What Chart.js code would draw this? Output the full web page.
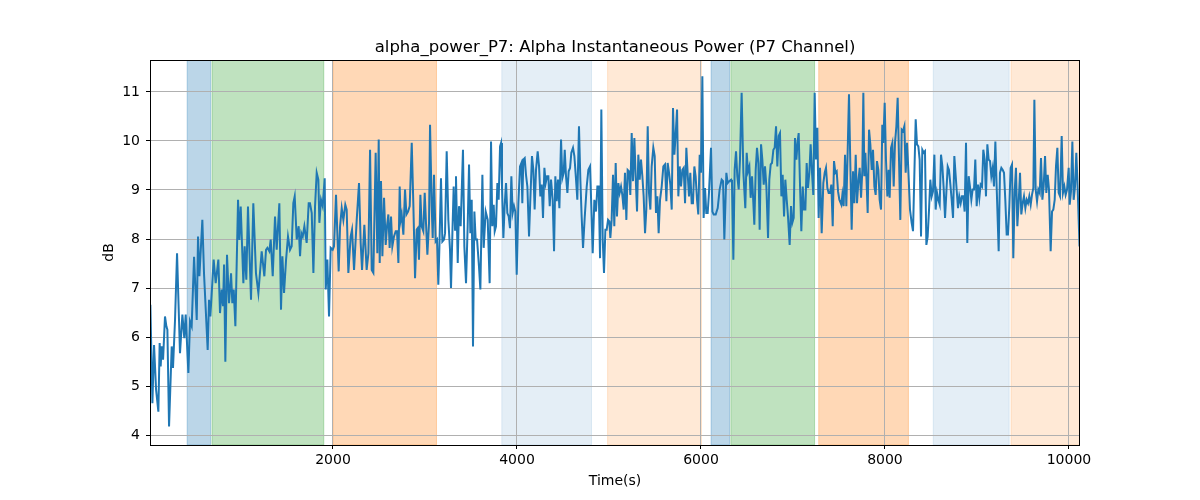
<!DOCTYPE html>
<html>
<head>
<meta charset="utf-8">
<title>alpha_power_P7</title>
<script src="https://cdn.jsdelivr.net/npm/chart.js@4.4.0/dist/chart.umd.min.js"></script>
<style>
    html, body { margin: 0; padding: 0; background: #fff; }
    #wrap { width: 1200px; height: 500px; }
</style>
</head>
<body>
<div id="wrap"><canvas id="powerChart" width="1200" height="500"></canvas></div>
<script>
// Chart text
const chartTitle = 'alpha_power_P7: Alpha Instantaneous Power (P7 Channel)';
const xLabel = 'Time(s)';
const yLabel = 'dB';

// Time (s) of each sample
const times = [
    15, 37, 55, 77, 102, 116, 127, 138, 153, 174, 189, 200, 218, 247, 261, 283, 305, 312, 337, 363,
    384, 399, 413, 428, 446, 464, 490, 519, 533, 548, 580, 598, 638, 653, 667, 703, 725, 754, 772, 790,
    805, 816, 830, 848, 870, 892, 906, 921, 939, 968, 982, 997, 1026, 1040, 1058, 1076, 1109, 1134, 1163, 1189,
    1225, 1254,
    1272, 1287, 1308, 1323, 1345, 1370, 1388, 1417, 1435, 1450, 1468, 1490, 1511, 1533, 1551, 1569, 1584, 1606, 1627, 1642,
    1656, 1671, 1689, 1714, 1736, 1750, 1769, 1787, 1805, 1823, 1841, 1852, 1870, 1888, 1910, 1921, 1939, 1957, 1975, 1997,
    2011, 2033, 2062, 2077, 2095, 2113, 2134, 2149, 2167, 2192, 2207, 2229, 2258, 2283, 2301, 2316, 2341, 2366, 2385, 2403,
    2421, 2439, 2464, 2482, 2497,
    2508, 2522, 2537, 2555, 2573, 2587, 2602, 2616, 2631, 2645, 2663, 2682, 2696, 2711, 2725, 2736, 2747, 2765, 2783, 2798,
    2816, 2834, 2856, 2874, 2892, 2910, 2921, 2935, 2950, 2964, 2982, 2997, 3011, 3026, 3044, 3055, 3073, 3084, 3098, 3116,
    3131, 3145, 3156, 3174, 3189, 3207, 3218, 3236, 3254, 3272, 3283, 3298, 3312, 3327, 3337, 3356, 3370, 3388, 3413, 3428,
    3446, 3464, 3479, 3493, 3508, 3522, 3537, 3551, 3566, 3587, 3602, 3624, 3638, 3660, 3682, 3703, 3718, 3732, 3747,
    3758, 3772, 3787, 3801, 3816, 3827, 3837, 3852, 3866, 3881, 3895, 3910, 3924, 3939, 3953, 3968, 3982, 3997, 4015, 4033,
    4048, 4058, 4069, 4084, 4098, 4113, 4131, 4145, 4163, 4178, 4192, 4207, 4225, 4240, 4254, 4269, 4283, 4298, 4312, 4327,
    4341, 4356, 4370, 4388, 4403, 4417, 4432, 4446, 4461, 4479, 4493, 4508, 4519, 4533, 4548, 4562, 4577, 4591, 4609, 4624,
    4642, 4656, 4674, 4689, 4703, 4718, 4736, 4758, 4776, 4794, 4808, 4823, 4841, 4859, 4874, 4888, 4903, 4917, 4932, 4946,
    4961, 4975, 4990, 5004,
    5015, 5029, 5044, 5058, 5073, 5087, 5102, 5116, 5131, 5145, 5160, 5174, 5189, 5203, 5218, 5232, 5247, 5261, 5276, 5290,
    5305, 5319, 5334, 5348, 5363, 5377, 5392, 5406, 5421, 5435, 5450, 5464, 5482, 5497, 5511, 5526, 5540, 5555, 5573, 5591,
    5609, 5624, 5638, 5653, 5667, 5682, 5696, 5711, 5725, 5740, 5754, 5769, 5783, 5798, 5812, 5827, 5841, 5856, 5870, 5884,
    5899, 5913, 5928, 5942, 5957, 5971, 5986, 6000, 6015, 6029, 6044, 6058, 6073, 6087, 6109, 6124, 6138, 6160, 6182, 6203,
    6225, 6240, 6254,
    6276, 6290, 6308, 6327, 6337, 6352, 6366, 6381, 6395, 6410, 6424, 6442, 6461, 6482, 6497, 6511, 6526, 6540, 6555, 6566,
    6580, 6595, 6609, 6624, 6638, 6653, 6667, 6682, 6696, 6711, 6729, 6743, 6758, 6772, 6787, 6801, 6816, 6830, 6845, 6859,
    6874, 6888, 6903, 6917, 6932, 6946, 6964, 6979, 6993, 7008, 7022, 7037, 7051, 7062, 7077, 7091, 7106, 7120, 7135, 7149,
    7163, 7178, 7192, 7207, 7221, 7236, 7250, 7265, 7279, 7294, 7312, 7330, 7345, 7359, 7374, 7388, 7403, 7417, 7432, 7446,
    7461, 7475, 7490, 7504,
    7511, 7526, 7537, 7551, 7566, 7580, 7595, 7609, 7624, 7638, 7653, 7667, 7682, 7696, 7711, 7725, 7740, 7754, 7765, 7776,
    7787, 7798, 7812, 7827, 7841, 7856, 7870, 7885, 7899, 7913, 7928, 7942, 7957, 7971, 7982, 7997, 8011, 8026, 8040, 8051,
    8066, 8080, 8095, 8109, 8124, 8138, 8153, 8167, 8182, 8196, 8211, 8225, 8240, 8254, 8272, 8290, 8305, 8319, 8334, 8348,
    8363, 8377, 8392, 8406, 8421, 8435, 8450, 8464, 8479, 8493, 8508, 8522, 8537, 8551, 8566, 8580, 8595, 8609, 8624, 8638,
    8653, 8667, 8682, 8696, 8711, 8725, 8740, 8754,
    8779, 8794, 8808, 8823, 8837, 8852, 8866, 8881, 8895, 8910, 8924, 8939, 8953, 8968, 8982, 8997, 9011, 9026, 9040, 9055,
    9069, 9084, 9098, 9113, 9127, 9142, 9156, 9171, 9185, 9200, 9214, 9236, 9250, 9265, 9279, 9294, 9308, 9323, 9337, 9352,
    9366, 9381, 9395, 9410, 9424, 9439, 9453, 9468, 9482, 9497, 9511, 9526, 9540, 9555, 9569, 9584, 9598, 9613, 9624, 9638,
    9653, 9667, 9682, 9696, 9711, 9725, 9740, 9754, 9769, 9783, 9801, 9816, 9830, 9845, 9859, 9874, 9888, 9903, 9921, 9935,
    9950, 9964, 9979, 9997, 10008, 10022, 10037, 10051, 10066, 10080, 10095, 10115
];

// Alpha power (dB) at each of those times
const power = [
    6.66, 4.65, 5.84, 4.93, 4.48, 5.88, 5.40, 5.81, 5.54, 6.42, 6.22, 6.15, 4.18, 5.81, 5.37, 6.35, 7.71, 7.71, 5.67, 6.46,
    5.98, 6.46, 5.88, 5.27, 6.32, 6.22, 7.64, 6.35, 8.05, 7.24, 8.39, 7.30, 5.74, 6.76, 6.42, 7.58, 7.10, 7.58, 6.49, 6.97,
    6.63, 7.48, 5.50, 7.68, 6.69, 7.30, 6.69, 6.97, 6.22, 8.80, 7.98, 8.66, 7.10, 7.85, 7.17, 8.66, 6.76, 8.73, 7.30, 6.90,
    7.75, 7.24,
    7.78, 7.82, 7.75, 7.99, 7.24, 8.46, 7.78, 8.73, 6.56, 7.65, 6.90, 7.58, 8.05, 7.78, 7.85, 8.73, 8.87, 7.99, 8.26, 7.65,
    8.12, 8.05, 8.26, 7.92, 8.73, 8.73, 8.53, 7.31, 8.67, 9.35, 9.21, 8.33, 8.80, 8.67, 9.24, 6.97, 7.58, 6.42, 7.82, 7.78,
    7.85, 8.90, 7.34, 8.26, 8.63, 8.39, 8.70, 8.60, 7.31, 8.05, 8.19, 7.37, 8.39, 9.14, 7.92, 7.37, 8.29, 7.37, 7.71, 9.82,
    7.37, 7.31, 9.76, 7.71, 10.03,
    7.51, 9.18, 7.65, 8.84, 7.88, 8.26, 8.50, 7.82, 8.46, 7.85, 8.05, 8.16, 8.16, 7.51, 9.07, 8.39, 8.50, 8.09, 9.01, 8.50,
    8.56, 8.67, 9.96, 8.67, 7.20, 8.19, 8.22, 7.58, 8.90, 8.26, 8.16, 8.94, 8.33, 7.68, 8.33, 10.33, 8.67, 8.02, 9.31, 7.95,
    7.99, 7.07, 7.78, 9.24, 7.95, 7.99, 8.12, 9.79, 8.39, 7.78, 7.00, 8.12, 9.07, 8.19, 9.28, 7.51, 8.67, 8.26, 9.82, 7.85,
    7.10, 8.26, 9.52, 8.12, 8.80, 5.81, 8.56, 7.99, 7.99, 7.44, 6.97, 9.31, 7.82, 8.56, 8.39, 7.10, 9.99, 8.26, 8.70,
    8.16, 8.26, 9.14, 8.80, 9.89, 9.96, 9.07, 8.02, 8.67, 9.14, 8.53, 8.46, 8.22, 9.28, 8.53, 8.67, 8.56, 7.27, 8.73, 9.48,
    9.55, 8.73, 9.62, 9.65, 9.31, 9.07, 8.05, 8.80, 9.69, 9.41, 8.60, 9.41, 9.79, 9.48, 8.87, 9.11, 8.43, 9.45, 9.14, 9.28,
    9.28, 8.67, 9.21, 8.80, 7.75, 9.28, 8.77, 9.21, 8.63, 10.03, 9.24, 9.35, 9.82, 9.28, 8.94, 9.38, 9.45, 9.76, 9.86, 9.69,
    9.21, 8.80, 10.30, 9.21, 8.46, 7.82, 8.43, 9.07, 9.41, 9.48, 8.67, 7.71, 8.80, 8.56, 9.07, 9.07, 7.61, 10.64, 7.99, 7.31,
    8.19, 8.19, 8.39, 8.36,
    8.02, 8.39, 9.31, 8.26, 9.55, 8.46, 9.14, 8.94, 9.07, 8.90, 8.60, 9.35, 8.39, 9.41, 9.38, 8.90, 10.16, 9.18, 10.06, 9.28,
    8.56, 9.72, 9.21, 9.62, 9.28, 8.87, 8.12, 8.60, 10.30, 8.94, 8.60, 9.48, 9.86, 9.69, 8.53, 8.87, 8.12, 8.80, 9.07, 9.48,
    9.52, 8.77, 9.55, 9.35, 9.11, 8.60, 10.67, 9.72, 10.13, 10.64, 8.87, 9.48, 9.07, 9.41, 9.45, 8.73, 9.86, 9.31, 8.87, 9.35,
    8.73, 8.73, 9.48, 9.28, 8.80, 8.50, 9.72, 9.35, 11.32, 8.43, 9.04, 8.53, 8.53, 8.94, 9.86, 8.56, 8.50, 8.50, 8.63, 9.01,
    9.21, 9.18, 7.99,
    9.35, 9.14, 9.18, 9.21, 9.14, 7.58, 9.41, 9.79, 9.28, 9.01, 9.62, 10.98, 9.35, 8.63, 9.76, 9.38, 9.48, 8.84, 9.28, 8.87,
    8.29, 9.41, 9.86, 9.55, 8.19, 9.93, 9.62, 9.11, 9.48, 9.07, 8.02, 9.21, 9.52, 9.55, 9.82, 9.86, 10.30, 9.48, 10.10, 10.16,
    8.87, 9.31, 8.46, 9.21, 8.80, 8.46, 7.88, 8.67, 8.33, 8.43, 10.06, 9.62, 9.99, 10.16, 9.07, 8.16, 9.07, 8.60, 8.60, 9.55,
    9.04, 9.35, 9.93, 9.35, 8.90, 10.98, 9.62, 10.27, 8.43, 9.45, 8.12, 9.14, 9.35, 9.45, 9.04, 8.94, 8.94, 9.11, 8.26, 9.59,
    9.35, 9.38, 8.97, 8.80,
    8.77, 8.70, 8.90, 8.67, 9.72, 8.67, 9.82, 10.95, 9.48, 8.19, 9.38, 8.73, 9.72, 8.73, 9.18, 9.45, 8.84, 9.41, 10.98, 9.28,
    9.76, 9.28, 8.53, 10.23, 9.93, 9.41, 9.82, 9.07, 8.90, 9.59, 9.41, 8.80, 8.60, 10.33, 9.96, 10.78, 9.62, 8.87, 9.41, 8.84,
    9.86, 9.96, 9.07, 9.96, 10.30, 10.88, 9.59, 8.39, 10.23, 10.20, 10.30, 9.35, 9.96, 9.41, 8.60, 8.33, 8.16, 9.28, 10.44, 9.93,
    9.89, 9.62, 8.05, 9.82, 9.76, 9.79, 7.88, 8.05, 8.60, 9.21, 8.87, 8.97, 9.72, 8.60, 8.94, 8.80, 8.70, 9.72, 9.48, 9.04,
    8.43, 8.94, 9.48, 9.41, 9.11, 8.80, 8.43, 9.69,
    9.01, 8.63, 8.87, 8.73, 8.87, 8.87, 8.56, 9.96, 7.92, 9.28, 9.07, 8.80, 9.01, 9.01, 9.62, 8.67, 9.11, 8.84, 9.11, 9.07,
    9.82, 9.62, 8.87, 9.93, 9.62, 9.59, 9.28, 9.45, 9.07, 9.99, 9.07, 7.75, 9.35, 9.45, 9.41, 9.35, 8.80, 8.09, 8.09, 8.67,
    9.45, 9.52, 7.61, 8.97, 9.45, 8.26, 8.73, 9.35, 8.50, 8.73, 8.87, 8.63, 8.80, 8.73, 8.87, 8.70, 8.90, 9.04, 10.84, 9.01,
    8.77, 9.01, 8.94, 9.65, 8.80, 9.07, 9.69, 8.94, 9.31, 9.01, 7.75, 8.56, 8.60, 8.80, 9.48, 9.86, 8.94, 8.87, 10.10, 8.94,
    9.07, 8.90, 9.01, 9.45, 8.70, 8.97, 9.99, 8.80, 9.07, 9.76, 9.01, 7.85
];

// Shaded phases (start / end in seconds) and their kind
const spanStarts = [415, 685, 2000, 3835, 4985, 6110, 6325, 7280, 8525, 9370];
const spanEnds   = [670, 1900, 3125, 4810, 6005, 6310, 7235, 8255, 9350, 10200];
const spanKinds  = ['blue', 'green', 'orange', 'paleBlue', 'paleOrange',
                    'blue', 'green', 'orange', 'paleBlue', 'paleOrange'];

// Axis ticks and limits
const xTickValues = [2000, 4000, 6000, 8000, 10000];
const yTickValues = [4, 5, 6, 7, 8, 9, 10, 11];
const xMin = 11, xMax = 10120;
const yMin = 3.8, yMax = 11.65;

// Colours for each kind of span
const spanColors = {
    blue: 'rgba(31, 119, 180, 0.3)',
    green: 'rgba(44, 160, 44, 0.3)',
    orange: 'rgba(255, 127, 14, 0.3)',
    paleBlue: 'rgba(31, 119, 180, 0.12)',
    paleOrange: 'rgba(255, 127, 14, 0.17)'
};

const FONT = '"DejaVu Sans", "Liberation Sans", sans-serif';

// Draw the shaded spans under the grid, then frame + title on top
const spanPlugin = {
    id: 'spans',
    beforeDraw(chart) {
        const { ctx, chartArea: a, scales: { x } } = chart;
        ctx.save();
        ctx.beginPath();
        ctx.rect(a.left, a.top, a.width, a.height);
        ctx.clip();
        spanStarts.forEach((s, i) => {
            const x0 = x.getPixelForValue(s);
            const x1 = x.getPixelForValue(spanEnds[i]);
            ctx.fillStyle = spanColors[spanKinds[i]];
            ctx.fillRect(x0, a.top, x1 - x0, a.height);
            ctx.strokeStyle = spanColors[spanKinds[i]];
            ctx.lineWidth = 1;
            ctx.strokeRect(x0, a.top, x1 - x0, a.height);
        });
        ctx.restore();
    },
    afterDraw(chart) {
        const { ctx, chartArea: a } = chart;
        ctx.save();
        ctx.strokeStyle = '#000';
        ctx.lineWidth = 1;
        ctx.strokeRect(a.left + 0.5, a.top + 0.5, a.width - 1, a.height);
        ctx.fillStyle = '#000';
        ctx.font = '16.5px ' + FONT;
        ctx.textAlign = 'center';
        ctx.textBaseline = 'alphabetic';
        ctx.fillText(chartTitle, (a.left + a.right) / 2, 52);
        ctx.restore();
    }
};

const ctx = document.getElementById('powerChart').getContext('2d');

new Chart(ctx, {
    type: 'line',
    data: {
        datasets: [{
            label: 'alpha_power_P7',
            data: times.map((t, i) => ({ x: t, y: power[i] })),
            borderColor: '#1f77b4',
            borderWidth: 2,
            pointRadius: 0,
            tension: 0,
            fill: false
        }]
    },
    options: {
        responsive: false,
        animation: false,
        devicePixelRatio: 1,
        layout: { padding: { top: 60, right: 120, bottom: 0, left: 0 } },
        plugins: {
            legend: { display: false },
            title: { display: false },
            tooltip: { enabled: false }
        },
        scales: {
            x: {
                type: 'linear',
                min: xMin,
                max: xMax,
                afterBuildTicks: scale => { scale.ticks = xTickValues.map(v => ({ value: v })); },
                afterFit: scale => { scale.height = 55; },
                ticks: {
                    color: '#000',
                    font: { family: FONT, size: 14 },
                    maxRotation: 0,
                    padding: 3,
                    callback: v => String(v)
                },
                grid: { color: '#b0b0b0', lineWidth: 1, tickLength: 4, tickColor: '#000' },
                border: { display: false },
                title: {
                    display: true,
                    text: xLabel,
                    color: '#000',
                    font: { family: FONT, size: 14 },
                    padding: { top: 2, bottom: 10 }
                }
            },
            y: {
                type: 'linear',
                min: yMin,
                max: yMax,
                afterBuildTicks: scale => { scale.ticks = yTickValues.map(v => ({ value: v })); },
                afterFit: scale => { scale.width = 150; },
                ticks: {
                    color: '#000',
                    font: { family: FONT, size: 14 },
                    padding: 6,
                    callback: v => String(v)
                },
                grid: { color: '#b0b0b0', lineWidth: 1, tickLength: 4, tickColor: '#000' },
                border: { display: false },
                title: {
                    display: true,
                    text: yLabel,
                    color: '#000',
                    font: { family: FONT, size: 14 },
                    padding: { top: 101, bottom: 0 }
                }
            }
        }
    },
    plugins: [spanPlugin]
});
</script>
</body>
</html>
